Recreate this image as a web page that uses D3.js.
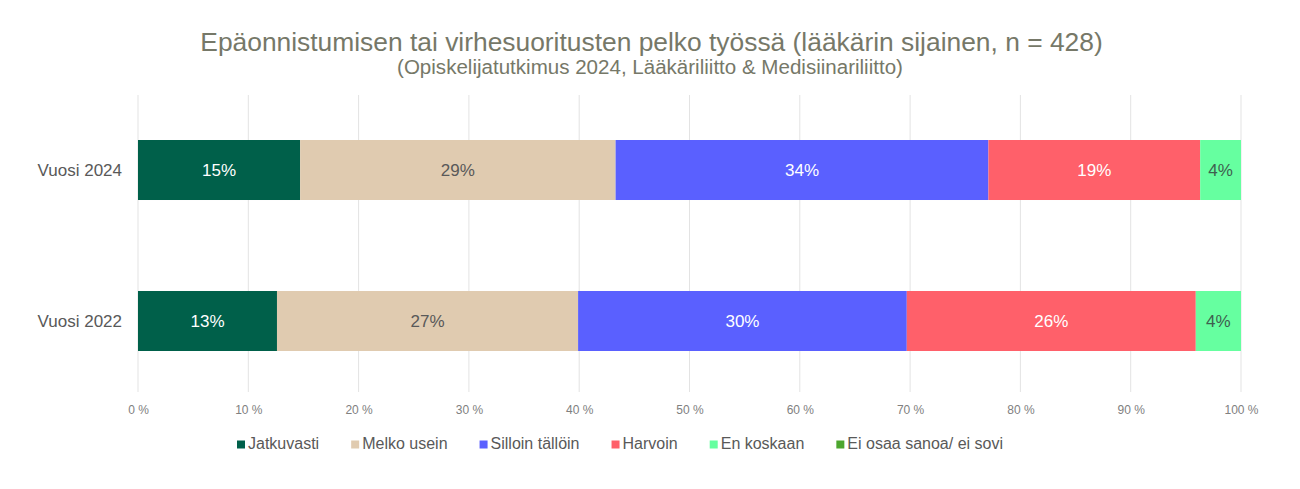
<!DOCTYPE html>
<html><head><meta charset="utf-8">
<script src="https://cdn.jsdelivr.net/npm/d3@7"></script>
<style>body{margin:0;background:#fff;}svg{display:block;font-family:"Liberation Sans",Arial,sans-serif;}</style>
</head><body>
<svg id="c" width="1300" height="489"></svg>
<script>
const categories = ["Vuosi 2024", "Vuosi 2022"];
const seriesNames = ["Jatkuvasti", "Melko usein", "Silloin tällöin", "Harvoin", "En koskaan", "Ei osaa sanoa/ ei sovi"];
const seriesColors = ["#00604a", "#e0cbb0", "#5a60ff", "#ff606a", "#66ffa0", "#4ca62e"];
const values2024 = [14.7, 28.6, 33.8, 19.2, 3.7, 0];
const values2022 = [12.6, 27.3, 29.8, 26.2, 4.1, 0];
const labels2024 = ["15%", "29%", "34%", "19%", "4%", ""];
const labels2022 = ["13%", "27%", "30%", "26%", "4%", ""];
const tickValues = [0,10,20,30,40,50,60,70,80,90,100];
const tickLabels = ["0 %","10 %","20 %","30 %","40 %","50 %","60 %","70 %","80 %","90 %","100 %"];
const labelColors = ["#ffffff","#595959","#ffffff","#ffffff","#3f5f4f","#ffffff"];

const svg = d3.select("#c");
const x = d3.scaleLinear().domain([0,100]).range([138,1241]);
const y = d3.scaleBand().domain(categories).range([64.5,426.5]).paddingInner(0.6026).paddingOuter(0.5);

function fit(sel, w){
  const n = sel.node(); const cur = n.getComputedTextLength();
  const fs = parseFloat(sel.attr("font-size"));
  sel.attr("font-size", fs*w/cur);
}
const t1 = svg.append("text").attr("x",651.5).attr("y",51).attr("text-anchor","middle")
  .attr("font-size",24).attr("fill","#767868").text("Epäonnistumisen tai virhesuoritusten pelko työssä (lääkärin sijainen, n = 428)");
fit(t1, 903);
const t2 = svg.append("text").attr("x",650).attr("y",74).attr("text-anchor","middle")
  .attr("font-size",17).attr("fill","#767868").text("(Opiskelijatutkimus 2024, Lääkäriliitto & Medisiinariliitto)");
fit(t2, 506);

// grid
svg.append("g").selectAll("line").data(tickValues).join("line")
  .attr("x1",d=>x(d)).attr("x2",d=>x(d)).attr("y1",95).attr("y2",392)
  .attr("stroke","#e3e3e3").attr("stroke-width",1);

const axis = d3.axisBottom(x).tickValues(tickValues).tickFormat((d,i)=>tickLabels[i]).tickSize(0).tickPadding(0);
const ag = svg.append("g").attr("transform","translate(0,405)").call(axis);
ag.select(".domain").remove();
ag.selectAll("text").attr("font-size",12).attr("fill","#808080").attr("font-family","Liberation Sans, Arial, sans-serif");

const rows = [{cat:categories[0], vals:values2024, labs:labels2024},{cat:categories[1], vals:values2022, labs:labels2022}];
rows.forEach(r=>{
  let acc=0;
  const segs = r.vals.map((v,i)=>{const s={x0:acc,x1:acc+v,i:i,lab:r.labs[i]}; acc+=v; return s;});
  const g = svg.append("g");
  g.selectAll("rect").data(segs.filter(s=>s.x1>s.x0)).join("rect")
    .attr("x",s=>x(s.x0)).attr("width",s=>x(s.x1)-x(s.x0))
    .attr("y",y(r.cat)).attr("height",y.bandwidth()).attr("fill",s=>seriesColors[s.i]);
  g.selectAll("text").data(segs.filter(s=>s.lab)).join("text")
    .attr("x",s=>(x(s.x0)+x(s.x1))/2).attr("y",y(r.cat)+y.bandwidth()/2).attr("dy","0.35em")
    .attr("text-anchor","middle").attr("font-size",17).attr("fill",s=>labelColors[s.i]).text(s=>s.lab);
  svg.append("text").attr("x",122).attr("y",y(r.cat)+y.bandwidth()/2).attr("dy","0.35em")
    .attr("text-anchor","end").attr("font-size",17).attr("fill","#595959").text(r.cat);
});

// legend
const lg = svg.append("g");
let lx = 237;
const items = [];
let textTotal = 0;
seriesNames.forEach((n,i)=>{
  const r = lg.append("rect").attr("y",440.5).attr("width",8).attr("height",8).attr("fill",seriesColors[i]);
  const t = lg.append("text").attr("y",449).attr("font-size",16).attr("fill","#595959").text(n);
  const w = t.node().getComputedTextLength();
  textTotal += w;
  items.push({r,t,w});
});
const gap = (1003 - 237 - textTotal - items.length*11) / (items.length-1);
items.forEach(it=>{
  it.r.attr("x",lx); it.t.attr("x",lx+11);
  lx += 11 + it.w + gap;
});
</script>
</body></html>
